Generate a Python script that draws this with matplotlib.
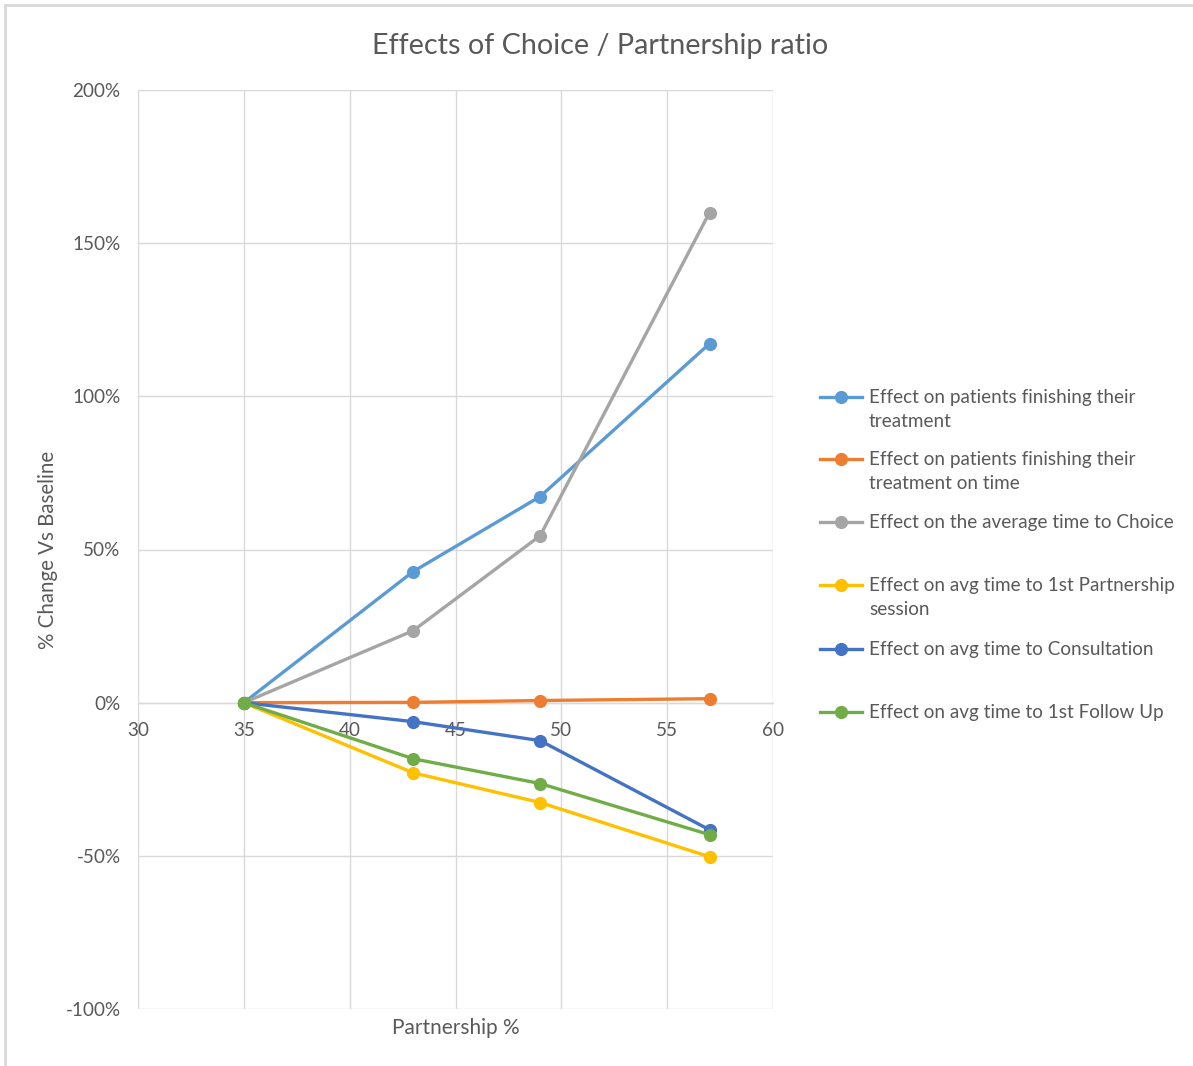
import matplotlib
matplotlib.use("Agg")
import matplotlib.pyplot as plt
from matplotlib.lines import Line2D
from matplotlib.ticker import FuncFormatter

plt.rcParams['font.family'] = ['Lato', 'DejaVu Sans']

# ---- data ----
partnership = [35, 43, 49, 57]
series_names = [
    "Effect on patients finishing their\ntreatment",
    "Effect on patients finishing their\ntreatment on time",
    "Effect on the average time to Choice",
    "Effect on avg time to 1st Partnership\nsession",
    "Effect on avg time to Consultation",
    "Effect on avg time to 1st Follow Up",
]
finishing = [0.0, 42.8, 67.3, 117.2]
finishing_on_time = [0.0, 0.1, 0.7, 1.3]
avg_time_choice = [0.0, 23.5, 54.5, 160.0]
avg_time_partnership = [0.0, -22.9, -32.6, -50.3]
avg_time_consultation = [0.0, -6.2, -12.4, -41.5]
avg_time_followup = [0.0, -18.3, -26.4, -43.1]
series_values = [finishing, finishing_on_time, avg_time_choice,
                 avg_time_partnership, avg_time_consultation, avg_time_followup]
colors = ["#5B9BD5", "#ED7D31", "#A5A5A5", "#FFC000", "#4472C4", "#70AD47"]

x_ticks = [30, 35, 40, 45, 50, 55, 60]
y_ticks = [-100, -50, 0, 50, 100, 150, 200]

W, H = 1193, 1066
fig = plt.figure(figsize=(W / 100, H / 100), dpi=100)
fig.patch.set_facecolor("white")

L, R, T, B = 138, 773, 90, 1009
ax = fig.add_axes([L / W, 1 - B / H, (R - L) / W, (B - T) / H])

text_color = "#595959"
grid_color = "#D9D9D9"

for vals, c, name in zip(series_values, colors, series_names):
    ax.plot(partnership, vals, color=c, lw=2.4, marker="o", ms=9.5,
            markeredgewidth=0, solid_capstyle="round", label=name, zorder=3)

ax.set_xlim(30, 60)
ax.set_ylim(-100, 200)
ax.set_xticks(x_ticks)
ax.set_yticks(y_ticks)
ax.yaxis.set_major_formatter(FuncFormatter(lambda v, p: f"{int(v)}%"))
ax.grid(True, color=grid_color, lw=1.0, zorder=0)
ax.set_axisbelow(True)
for s in ["top", "right", "left"]:
    ax.spines[s].set_visible(False)
ax.spines["bottom"].set_position(("data", 0))
ax.spines["bottom"].set_color(grid_color)
ax.spines["bottom"].set_linewidth(1.0)
ax.tick_params(axis="both", length=0, labelsize=13.6, labelcolor=text_color)
ax.tick_params(axis="x", pad=14)
ax.tick_params(axis="y", pad=12.5)

ax.set_xlabel("Partnership %", fontsize=15, color=text_color, va="center")
ax.xaxis.set_label_coords(0.5, -(1028 - B) / (B - T))
ax.set_ylabel("% Change Vs Baseline", fontsize=14.8, color=text_color, va="center")
ax.yaxis.set_label_coords(-(L - 48) / (R - L), 0.5)

fig.text(600 / W, 1 - 46 / H, "Effects of Choice / Partnership ratio",
         fontsize=20.7, color=text_color, ha="center", va="center")

# legend (Excel-style, equally spaced entries)
entry_y = [397, 459, 522, 585, 649, 712]
for name, c, yy in zip(series_names, colors, entry_y):
    yf = 1 - yy / H
    fig.add_artist(Line2D([820 / W, 862 / W], [yf, yf], color=c, lw=2.4,
                          transform=fig.transFigure))
    fig.add_artist(Line2D([841 / W], [yf], color=c, marker="o", ms=9.5,
                          markeredgewidth=0, transform=fig.transFigure))
    fig.text(869 / W, 1 - (yy - 8) / H, name, fontsize=13.6, color=text_color,
             ha="left", va="top", linespacing=1.5)

# outer chart border (left and top visible)
fig.add_artist(Line2D([5 / W, 5 / W], [0, 1 - 5 / H], color="#D9D9D9", lw=2,
                      transform=fig.transFigure))
fig.add_artist(Line2D([5 / W, 1], [1 - 5 / H, 1 - 5 / H], color="#D9D9D9", lw=2,
                      transform=fig.transFigure))

fig.savefig("out.png", dpi=100)
